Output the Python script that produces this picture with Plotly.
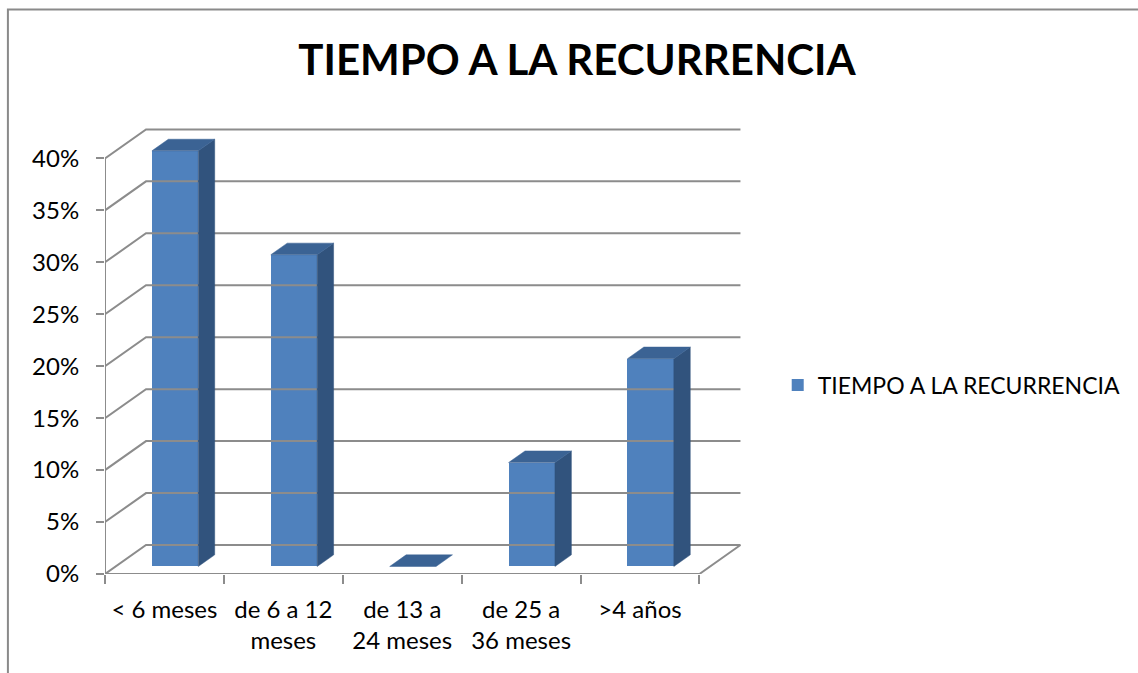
import plotly.graph_objects as go

categories = ["< 6 meses", "de 6 a 12<br>meses", "de 13 a<br>24 meses", "de 25 a<br>36 meses", ">4 años"]
values = [40, 30, 0, 10, 20]
y_ticks = [0, 5, 10, 15, 20, 25, 30, 35, 40]
series_name = "TIEMPO A LA RECURRENCIA"
title_text = "TIEMPO A LA RECURRENCIA"

# pseudo-3D geometry (in data units)
DX, DY = 0.345, 2.79        # full depth offset
D0, D1 = 0.26, 0.66         # bar depth span
BW = 0.39                   # bar width

FRONT = "#4F81BD"
TOP = "#3B6394"
SIDE = "#31537D"
GRID = "#8C8C8C"
FONT = "Lato"

n = len(categories)
ymax = max(y_ticks)

fig = go.Figure()

# grid / walls
gx, gy = [], []
for k in y_ticks:
    gx += [0, DX, n + DX, None]
    gy += [k, k + DY, k + DY, None]
gx += [0, n, n + DX, None, 0, 0, None]
gy += [0, 0, DY, None, 0, ymax, None]
fig.add_trace(go.Scatter(x=gx, y=gy, mode="lines", line=dict(color=GRID, width=2),
                         hoverinfo="skip", showlegend=False))

# side and top faces
sx, sy, tx, ty = [], [], [], []
for i, v in enumerate(values):
    xl = i + 0.5 - BW / 2
    xr = i + 0.5 + BW / 2
    if v > 0:
        sx += [xr + D0 * DX, xr + D1 * DX, xr + D1 * DX, xr + D0 * DX, xr + D0 * DX, None]
        sy += [D0 * DY, D1 * DY, v + D1 * DY, v + D0 * DY, D0 * DY, None]
    tx += [xl + D0 * DX, xr + D0 * DX, xr + D1 * DX, xl + D1 * DX, xl + D0 * DX, None]
    ty += [v + D0 * DY, v + D0 * DY, v + D1 * DY, v + D1 * DY, v + D0 * DY, None]
fig.add_trace(go.Scatter(x=sx, y=sy, mode="lines", fill="toself", fillcolor=SIDE,
                         line=dict(width=0.5, color=SIDE), hoverinfo="skip", showlegend=False))
fig.add_trace(go.Scatter(x=tx, y=ty, mode="lines", fill="toself", fillcolor=TOP,
                         line=dict(width=0.5, color=TOP), hoverinfo="skip", showlegend=False))

# front faces
fig.add_trace(go.Bar(
    x=[i + 0.5 + D0 * DX for i in range(n)], y=values, base=[D0 * DY] * n, width=BW,
    marker=dict(color=FRONT, line=dict(width=0)), name=series_name, showlegend=True))

# layout in pixels
W, H = 1138, 673
L, B = 105, 574
PX_X, PX_Y = 120, 10.4
xr_max = 5.4
yr_max = 43.5
R = W - (L + xr_max * PX_X)
T = B - yr_max * PX_Y

fig.update_layout(
    width=W, height=H,
    margin=dict(l=L, r=R, t=T, b=H - B, pad=0),
    paper_bgcolor="white", plot_bgcolor="white",
    font=dict(family=FONT, color="#000000", size=24),
    title=dict(text="<b>" + title_text + "</b>", x=(577) / W, xanchor="center",
               y=1 - 60 / H, yanchor="middle", font=dict(size=42, family=FONT, color="#000")),
    showlegend=True,
    legend=dict(x=(784 - L) / (xr_max * PX_X), y=(B - 385) / (yr_max * PX_Y),
                xanchor="left", yanchor="middle", font=dict(size=23, family=FONT),
                bgcolor="rgba(0,0,0,0)"),
    bargap=0,
)
fig.update_xaxes(range=[0, xr_max], showgrid=False, zeroline=False, showline=False,
                 tickvals=[i + 0.5 for i in range(n)], ticktext=categories, ticks="",
                 ticklabelstandoff=19, tickfont=dict(size=24),
                 minor=dict(tickvals=list(range(n + 1)), ticks="outside", ticklen=9,
                            tickcolor=GRID, tickwidth=2, showgrid=False),
                 fixedrange=True)
fig.update_yaxes(range=[0, yr_max], showgrid=False, zeroline=False, showline=False,
                 tickvals=y_ticks, ticktext=[f"{t}%" for t in y_ticks],
                 ticks="outside", ticklen=8, tickcolor=GRID, tickwidth=2,
                 tickfont=dict(size=24), ticklabelstandoff=12, fixedrange=True)

# chart border (top and left edges visible)
pw, ph = xr_max * PX_X, yr_max * PX_Y
fig.add_shape(type="rect", xref="paper", yref="paper",
              x0=(7 - L) / pw, x1=(W + 20 - L) / pw, y0=(B - (H + 20)) / ph, y1=(B - 9) / ph,
              line=dict(color="#8A8A8A", width=2), layer="below")

fig.write_html("out.html")
